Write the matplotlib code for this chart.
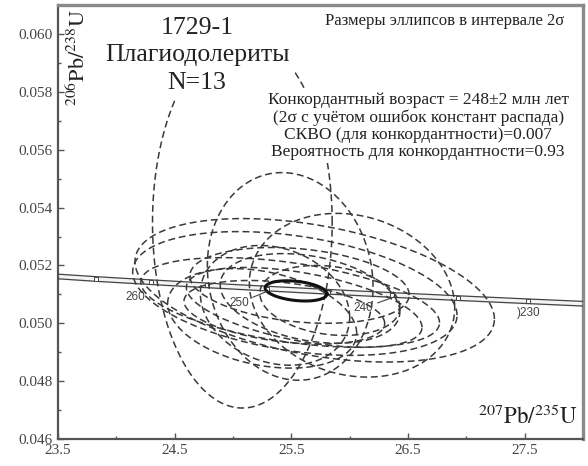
import numpy as np
import matplotlib.pyplot as plt
from matplotlib.ticker import MultipleLocator

plt.rcParams['font.family'] = ['Liberation Serif', 'DejaVu Serif']
plt.rcParams['mathtext.fontset'] = 'stix'

# concordia: age markers (Ma) and their positions
conc_age = [270, 265, 260, 255, 250, 245, 240, 235, 230, 225]
conc_x = [23.38, 23.83, 24.30, 24.78, 25.29, 25.81, 26.36, 26.93, 27.53, 28.15]
conc_y = [0.05165, 0.05153, 0.05142, 0.05131, 0.05120, 0.05109,
          0.05098, 0.05087, 0.05076, 0.05065]
band_half = 0.00008

# analyses: centre, 2-sigma half widths, error correlation
ell_x = [25.08, 25.49, 26.02, 25.70, 25.53, 25.49, 25.61,
         25.44, 25.66, 25.36, 25.57, 25.83, 25.25]
ell_y = [0.05348, 0.05162, 0.05097, 0.05114, 0.05103, 0.05072, 0.05055,
         0.05038, 0.05086, 0.05062, 0.05131, 0.05079, 0.05017]
ell_sx = [0.77, 0.71, 0.88, 1.54, 1.39, 1.28, 1.01,
          0.86, 0.77, 0.64, 0.94, 0.60, 0.81]
ell_sy = [0.00641, 0.00359, 0.00283, 0.00248, 0.00214, 0.00155, 0.00138,
          0.00110, 0.00155, 0.00207, 0.00131, 0.00121, 0.00172]
ell_rho = [0.0, -0.1, -0.15, -0.4, -0.35, -0.45, -0.5,
           -0.35, -0.3, -0.2, -0.25, -0.2, -0.3]

# concordia age ellipse
age_x, age_y, age_sx, age_sy, age_rho = 25.54, 0.05112, 0.265, 0.00035, -0.3

stats_text = ("Конкордантный возраст = 248±2 млн лет\n"
              "(2σ с учётом ошибок констант распада)\n"
              "СКВО (для конкордантности)=0.007\n"
              "Вероятность для конкордантности=0.93")


def ellipse_xy(cx, cy, sx, sy, rho, n=240):
    t = np.linspace(0, 2 * np.pi, n)
    x = cx + sx * np.cos(t)
    y = cy + sy * (rho * np.cos(t) + np.sqrt(1 - rho ** 2) * np.sin(t))
    return x, y


fig = plt.figure(figsize=(5.88, 4.66), dpi=100)
ax = fig.add_axes([0.0986, 0.058, 0.893, 0.931])
ax.set_xlim(23.5, 28.0)
ax.set_ylim(0.046, 0.061)

# concordia band with age markers
cy = np.array(conc_y)
ax.fill_between(conc_x, cy - band_half, cy + band_half, color='#f4f4f4', zorder=2)
ax.plot(conc_x, cy + band_half, color='#444444', lw=0.9, zorder=3)
ax.plot(conc_x, cy - band_half, color='#444444', lw=0.9, zorder=3)
ax.plot(conc_x, conc_y, ls='none', marker='s', ms=3.2, mfc='white',
        mec='#444444', mew=0.7, zorder=4)

for i in range(len(ell_x)):
    x, y = ellipse_xy(ell_x[i], ell_y[i], ell_sx[i], ell_sy[i], ell_rho[i])
    ax.plot(x, y, color='#3a3a3a', lw=1.1, ls=(0, (4.5, 2.5)), zorder=5)

x, y = ellipse_xy(age_x, age_y, age_sx, age_sy, age_rho)
ax.plot(x, y, color='#111111', lw=2.2, zorder=6)

# age labels
lab_font = dict(family='Liberation Sans', size=8.5, color='#444444')
i260 = conc_age.index(260)
ax.text(conc_x[i260] - 0.14, conc_y[i260] - 0.00050, '260',
        ha='center', va='center', zorder=7, **lab_font)
for age, dx, dy in [(250, -0.24, -0.00050), (240, -0.24, -0.00045)]:
    i = conc_age.index(age)
    ax.annotate(str(age), xy=(conc_x[i], conc_y[i] - 0.00010),
                xytext=(conc_x[i] + dx, conc_y[i] + dy),
                ha='center', va='center', zorder=7,
                arrowprops=dict(arrowstyle='-', color='#444444', lw=0.8,
                                shrinkA=1, shrinkB=0), **lab_font)
i230 = conc_age.index(230)
ax.text(conc_x[i230] - 0.10, conc_y[i230] - 0.00042, ')230',
        ha='left', va='center', zorder=7, **lab_font)

# annotations
ax.text(0.265, 0.884, '1729-1\nПлагиодолериты\nN=13', transform=ax.transAxes,
        ha='center', va='center', multialignment='center', fontsize=18.5,
        linespacing=1.3, color='#222222', zorder=8,
        bbox=dict(facecolor='white', edgecolor='none', pad=4))
ax.text(0.737, 0.963, 'Размеры эллипсов в интервале 2σ', transform=ax.transAxes,
        ha='center', va='center', fontsize=12, color='#222222', zorder=8)
ax.text(0.686, 0.721, stats_text, transform=ax.transAxes,
        ha='center', va='center', multialignment='center', fontsize=12.5,
        linespacing=1.08, color='#222222', zorder=8,
        bbox=dict(facecolor='white', edgecolor='none', pad=2))

ax.text(0.038, 0.878, r'$^{206}\mathrm{Pb}/^{238}\mathrm{U}$', transform=ax.transAxes,
        rotation=90, ha='center', va='center', fontsize=16, color='#222222', zorder=8)
ax.text(0.895, 0.050, r'$^{207}\mathrm{Pb}/^{235}\mathrm{U}$', transform=ax.transAxes,
        ha='center', va='center', fontsize=16.5, color='#222222', zorder=8)

# axes styling
ax.xaxis.set_major_locator(MultipleLocator(1.0, offset=0.5))
ax.xaxis.set_minor_locator(MultipleLocator(0.5))
ax.yaxis.set_major_locator(MultipleLocator(0.002))
ax.yaxis.set_minor_locator(MultipleLocator(0.001))
ax.xaxis.set_major_formatter(lambda v, p: f'{v:.1f}')
ax.yaxis.set_major_formatter(lambda v, p: f'{v:.3f}')
ax.tick_params(which='both', direction='in', colors='#555555',
               labelcolor='#444444', labelsize=11, top=False, right=False)
ax.tick_params(which='major', length=4, width=1.0)
ax.tick_params(which='minor', length=2.5, width=1.0)
for side in ['left', 'bottom']:
    ax.spines[side].set_color('#555555')
    ax.spines[side].set_linewidth(1.6)
for side in ['top', 'right']:
    ax.spines[side].set_color('#8a8a8a')
    ax.spines[side].set_linewidth(2.4)

fig.savefig('out.png', dpi=100)
